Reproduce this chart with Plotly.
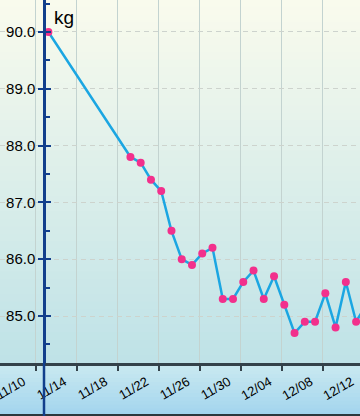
import plotly.graph_objects as go

# ---- data ----
dates = ["2012-11-15 05:30", "2012-11-23 05:30", "2012-11-24 05:30", "2012-11-25 05:30",
         "2012-11-26 05:30", "2012-11-27 05:30", "2012-11-28 05:30", "2012-11-29 05:30",
         "2012-11-30 05:30", "2012-12-01 05:30", "2012-12-02 05:30", "2012-12-03 05:30",
         "2012-12-04 05:30", "2012-12-05 05:30", "2012-12-06 05:30", "2012-12-07 05:30",
         "2012-12-08 05:30", "2012-12-09 05:30", "2012-12-10 05:30", "2012-12-11 05:30",
         "2012-12-12 05:30", "2012-12-13 05:30", "2012-12-14 05:30", "2012-12-15 05:30",
         "2012-12-16 05:30"]
weights = [90.0, 87.8, 87.7, 87.4, 87.2, 86.5, 86.0, 85.9, 86.1, 86.2, 85.3, 85.3, 85.6,
           85.8, 85.3, 85.7, 85.2, 84.7, 84.9, 84.9, 85.4, 84.8, 85.6, 84.9, 85.2]
unit_label = "kg"

# ---- layout constants ----
W, H = 360, 416
B = 53                 # bottom label band
PH = H - B             # plot height
x_range = ["2012-11-10 12:17", "2012-12-15 14:38"]
x_label_range = ["2012-11-07 17:30", "2012-12-12 19:50"]   # shifted copy for label placement
y_range = [84.173, 90.563]
yaxis_pos = 44 / W

AXIS_BLUE = "#123f8c"
FONT = "Liberation Sans, Arial, sans-serif"


def lerp(c1, c2, t):
    return "rgb(%d,%d,%d)" % tuple(round(a + (b - a) * t) for a, b in zip(c1, c2))


shapes = []
# plot area gradient
N = 48
top_c, bot_c = (250, 251, 237), (190, 226, 231)
for i in range(N):
    y0 = 1 - i / N
    y1 = 1 - (i + 1) / N
    shapes.append(dict(type="rect", xref="paper", yref="paper", x0=0, x1=1, y0=y1, y1=y0 + 0.002,
                       fillcolor=lerp(top_c, bot_c, (i + 0.5) / N), line=dict(width=0), layer="below"))
# label band gradient
M = 14
lt, lb = (203, 234, 240), (162, 212, 238)
for i in range(M):
    y0 = -(i / M) * B / PH
    y1 = -((i + 1) / M) * B / PH
    shapes.append(dict(type="rect", xref="paper", yref="paper", x0=0, x1=1, y0=y1 - 0.002, y1=y0,
                       fillcolor=lerp(lt, lb, (i + 0.5) / M), line=dict(width=0), layer="below"))
# bottom border
shapes.append(dict(type="line", xref="paper", yref="paper", x0=0, x1=1,
                   y0=-(415 - PH) / PH, y1=-(415 - PH) / PH, line=dict(color="#2c383d", width=2)))
# y axis line continued through label band
shapes.append(dict(type="line", xref="paper", yref="paper", x0=yaxis_pos, x1=yaxis_pos,
                   y0=-B / PH, y1=0, line=dict(color=AXIS_BLUE, width=2.5)))

fig = go.Figure()
fig.add_trace(go.Scatter(
    x=dates, y=weights, mode="lines+markers",
    line=dict(color="#1ba6e2", width=2.5),
    marker=dict(color="#f2308c", size=8, line=dict(width=0)),
    hoverinfo="x+y", showlegend=False, cliponaxis=True,
))
# empty helper traces so the overlay axes (labels / inner ticks) are drawn
fig.add_trace(go.Scatter(x=[], y=[], xaxis="x2", yaxis="y", showlegend=False, hoverinfo="skip"))
fig.add_trace(go.Scatter(x=[], y=[], xaxis="x", yaxis="y2", showlegend=False, hoverinfo="skip"))

fig.update_layout(
    width=W, height=H, template="none",
    margin=dict(l=0, r=0, t=0, b=B, pad=0),
    paper_bgcolor="#a9d8ee", plot_bgcolor="rgba(0,0,0,0)",
    font=dict(family=FONT, color="#000000"),
    shapes=shapes,
    xaxis=dict(
        type="date", range=x_range, domain=[0, 1], anchor="y",
        tick0="2012-11-14", dtick=4 * 86400000,
        showgrid=True, gridcolor="#c3d3d0", gridwidth=1,
        showline=True, linecolor="#34424a", linewidth=2.5,
        ticks="outside", ticklen=5, tickwidth=1.5, tickcolor="#34424a",
        showticklabels=False, zeroline=False, automargin=False,
    ),
    xaxis2=dict(
        type="date", range=x_label_range, overlaying="x", anchor="y", side="bottom",
        tick0="2012-11-14", dtick=4 * 86400000, tickformat="%m/%d",
        tickangle=-30, tickfont=dict(size=13, family=FONT, color="#000"),
        ticklabelstandoff=8, ticklabeloverflow="allow",
        showgrid=False, showline=False, ticks="", zeroline=False, automargin=False,
    ),
    yaxis=dict(
        range=y_range, anchor="free", position=yaxis_pos, domain=[0, 1],
        tick0=85, dtick=1, tickformat=".1f",
        tickfont=dict(size=15, family=FONT, color="#000"),
        showgrid=True, gridcolor="#cdd3cd", gridwidth=1, griddash="5px,4px",
        showline=True, linecolor=AXIS_BLUE, linewidth=2.5,
        ticks="outside", ticklen=5, tickwidth=2, tickcolor=AXIS_BLUE,
        zeroline=False, automargin=False,
    ),
    yaxis2=dict(
        range=y_range, overlaying="y", anchor="free", position=yaxis_pos,
        tick0=85, dtick=1, showticklabels=False,
        ticks="inside", ticklen=6, tickwidth=2, tickcolor=AXIS_BLUE,
        minor=dict(dtick=0.5, ticks="inside", ticklen=5, tickwidth=1.5, tickcolor=AXIS_BLUE, showgrid=False),
        showgrid=False, showline=False, zeroline=False, automargin=False,
    ),
    annotations=[dict(text=unit_label, xref="paper", yref="paper",
                      x=52 / W, y=(PH - 17) / PH, xanchor="left", yanchor="middle",
                      showarrow=False, font=dict(size=19, family=FONT, color="#000"))],
)

fig.write_html("out.html", config={"displayModeBar": False},
               post_script="document.body.style.margin='0px';")
